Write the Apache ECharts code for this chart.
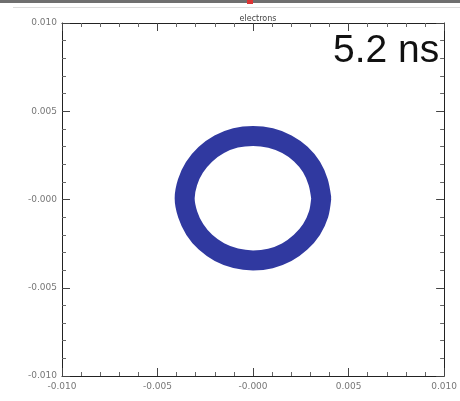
<!DOCTYPE html>
<html>
<head>
<meta charset="utf-8">
<script src="https://cdn.jsdelivr.net/npm/echarts@6/dist/echarts.min.js"></script>
<style>
html,body{margin:0;padding:0;background:#fff;}
#chart{width:460px;height:401px;}
</style>
</head>
<body>
<div id="chart"></div>
<script>
// ring centerline points (x, y)
const ringX = [0.00357, 0.00341, 0.00306, 0.00250, 0.00177, 0.00092, 0.00000, -0.00092, -0.00177, -0.00250, -0.00307, -0.00343, -0.00358, -0.00342, -0.00305, -0.00249, -0.00176, -0.00091, 0.00000, 0.00091, 0.00176, 0.00249, 0.00306, 0.00343, 0.00357];
const ringY = [0.00007, 0.00098, 0.00184, 0.00257, 0.00313, 0.00348, 0.00360, 0.00349, 0.00313, 0.00256, 0.00182, 0.00098, 0.00007, -0.00085, -0.00170, -0.00242, -0.00298, -0.00333, -0.00345, -0.00334, -0.00299, -0.00242, -0.00170, -0.00084, 0.00007];
const xTickValues = [-0.010, -0.005, 0.000, 0.005, 0.010];
const xTickLabels = ['-0.010', '-0.005', '-0.000', '0.005', '0.010'];
const yTickValues = [-0.010, -0.005, 0.000, 0.005, 0.010];
const yTickLabels = ['-0.010', '-0.005', '-0.000', '0.005', '0.010'];
const titleText = 'electrons';
const timeText = '5.2 ns';

function fmt(values, labels) {
  return function (v) {
    for (let i = 0; i < values.length; i++) {
      if (Math.abs(v - values[i]) < 1e-9) return labels[i];
    }
    return '';
  };
}

const chart = echarts.init(document.getElementById('chart'));
const axisCommon = {
  type: 'value', min: -0.01, max: 0.01, interval: 0.005,
  axisLine: { show: true, onZero: false, lineStyle: { color: '#222', width: 1 } },
  axisTick: { show: true, inside: true, length: 8, lineStyle: { color: '#444' } },
  minorTick: { show: true, splitNumber: 5, length: 4, lineStyle: { color: '#666' } },
  splitLine: { show: false },
  minorSplitLine: { show: false }
};
const labelStyle = { color: '#777', fontSize: 9, fontFamily: 'DejaVu Sans' };

chart.setOption({
  animation: false,
  backgroundColor: '#fff',
  grid: { left: 62, right: 13, top: 23, bottom: 25 },
  title: {
    text: titleText, left: 253, top: 10, textAlign: 'center',
    textStyle: { fontSize: 8, fontWeight: 'normal', color: '#444', fontFamily: 'DejaVu Sans' }
  },
  xAxis: [
    Object.assign({}, axisCommon, {
      position: 'bottom',
      axisLabel: Object.assign({ margin: 6, formatter: fmt(xTickValues, xTickLabels) }, labelStyle)
    }),
    Object.assign({}, axisCommon, { position: 'top', axisLabel: { show: false } })
  ],
  yAxis: [
    Object.assign({}, axisCommon, {
      position: 'left',
      axisLabel: Object.assign({ margin: 5, formatter: fmt(yTickValues, yTickLabels) }, labelStyle)
    }),
    Object.assign({}, axisCommon, { position: 'right', axisLabel: { show: false } })
  ],
  graphic: [
    { type: 'rect', shape: { x: 0, y: 0, width: 460, height: 3 }, style: { fill: '#6f6f6f' } },
    { type: 'rect', shape: { x: 247, y: 0, width: 6, height: 4 }, style: { fill: '#d33' } },
    { type: 'line', shape: { x1: 13, y1: 7.5, x2: 460, y2: 7.5 }, style: { stroke: '#ddd', lineWidth: 1 } },
    {
      type: 'text', left: 333, top: 32, z: 10,
      style: { text: timeText, fontSize: 39, fill: '#111', fontFamily: 'Liberation Sans' }
    }
  ],
  series: [{
    type: 'line',
    data: ringX.map((x, i) => [x, ringY[i]]),
    smooth: 0.3,
    showSymbol: false,
    lineStyle: { color: '#3039a0', width: 20, cap: 'round', join: 'round' }
  }]
});
</script>
</body>
</html>
